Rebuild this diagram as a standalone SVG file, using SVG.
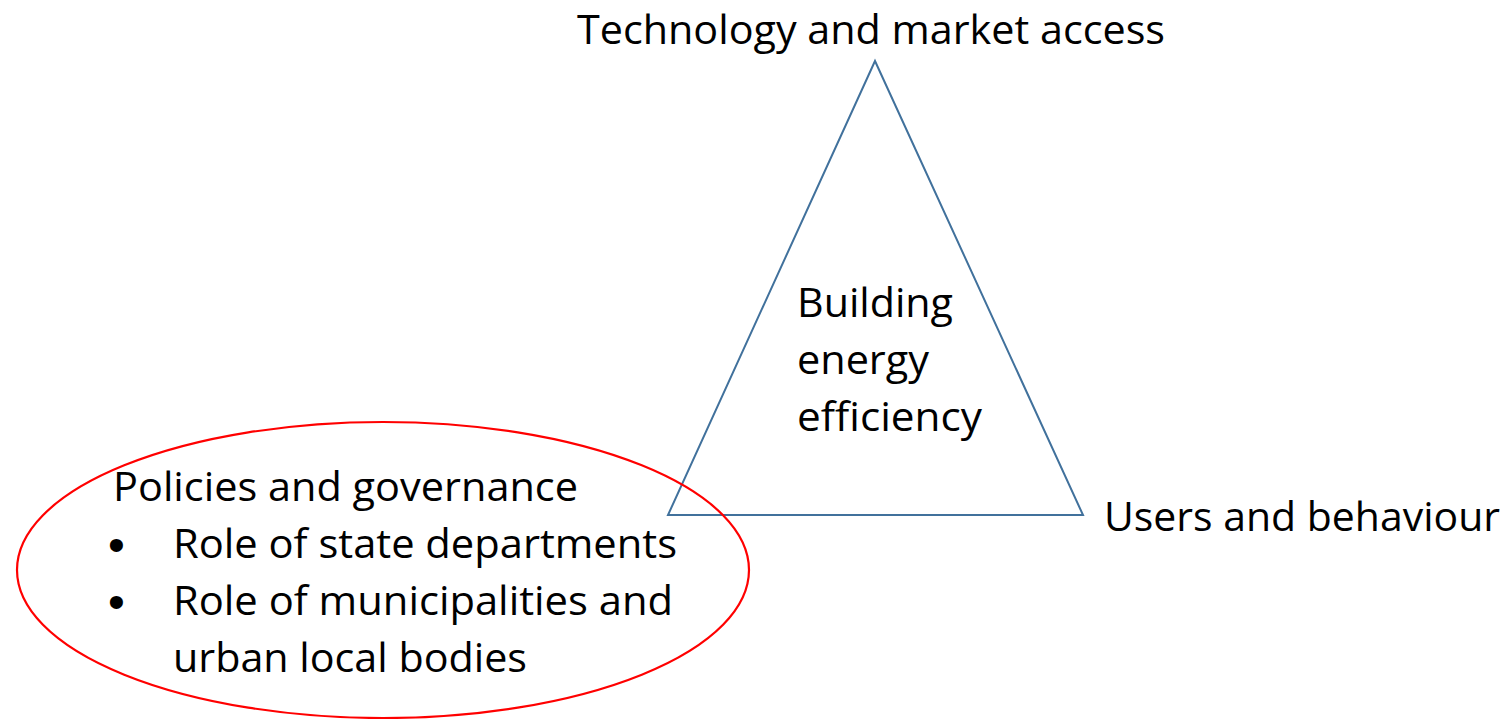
<svg xmlns="http://www.w3.org/2000/svg" width="1506" height="719" viewBox="0 0 1506 719">
<style>
text{font-family:"Open Sans","Noto Sans","Liberation Sans",sans-serif;font-size:40px;fill:#000}
.bul{font-family:"Liberation Sans",sans-serif;font-size:48px}
.tri{fill:none;stroke:#41719C;stroke-width:2}
.ell{fill:none;stroke:#FF0000;stroke-width:2.2}
</style>
<rect width="1506" height="719" fill="#fff"/>
<g id="triangle">
<polygon class="tri" points="875,61 668,515 1083,515"/>
<text x="797" y="317" textLength="156" lengthAdjust="spacingAndGlyphs">Building</text>
<text x="797" y="374" textLength="132" lengthAdjust="spacingAndGlyphs">energy</text>
<text x="797" y="431" textLength="185" lengthAdjust="spacingAndGlyphs">efficiency</text>
</g>
<g id="top-label">
<text x="577" y="44" textLength="588" lengthAdjust="spacingAndGlyphs">Technology and market access</text>
</g>
<g id="right-label">
<text x="1104" y="531" textLength="396" lengthAdjust="spacingAndGlyphs">Users and behaviour</text>
</g>
<g id="policies">
<ellipse class="ell" cx="383" cy="570" rx="366" ry="148"/>
<text x="113" y="501" textLength="465" lengthAdjust="spacingAndGlyphs">Policies and governance</text>
<text class="bul" x="108" y="561">•</text>
<text x="173" y="558" textLength="504" lengthAdjust="spacingAndGlyphs">Role of state departments</text>
<text class="bul" x="108" y="618">•</text>
<text x="173" y="615" textLength="500" lengthAdjust="spacingAndGlyphs">Role of municipalities and</text>
<text x="173" y="672" textLength="354" lengthAdjust="spacingAndGlyphs">urban local bodies</text>
</g>
<g id="connectors"></g>
</svg>
